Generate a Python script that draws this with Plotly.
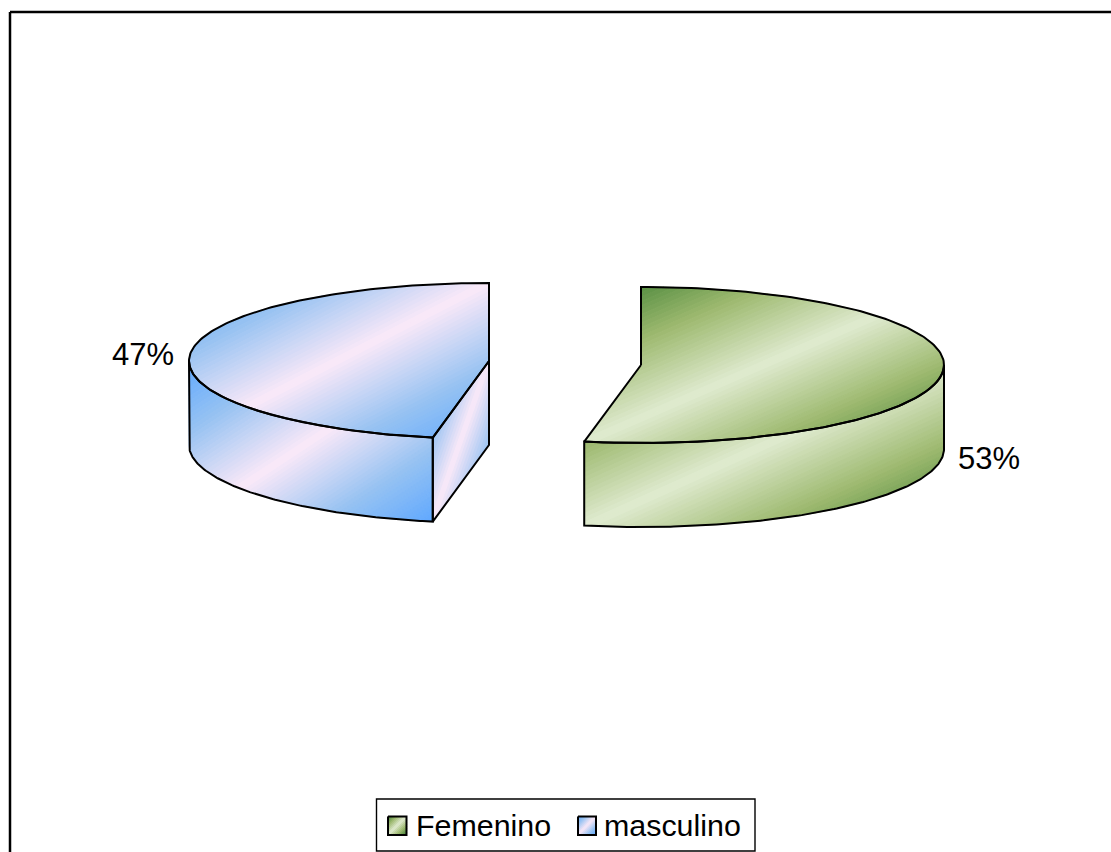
import math
import plotly.graph_objects as go

# Survey split by sex
categories = ["Femenino", "masculino"]
shares = [53, 47]

WIDTH, HEIGHT = 1111, 852
FONT = "Liberation Sans, Arial, sans-serif"

# Pixel-space placement of each exploded wedge: centre x, centre y, radius x, radius y
WEDGE_GEOMETRY = {
    "Femenino": (641, 365, 303, 78),
    "masculino": (489, 361, 300, 78),
}
DEPTH = 84

# Diagonal gradient ramps, position 0 at a face's top-left corner, 1 at bottom-right
RAMPS = {
    "Femenino": [(0.0, "#3a7d30"), (0.25, "#9db96f"), (0.5, "#e0ebd0"), (0.75, "#9db96f"), (1.0, "#3a7d30")],
    "masculino": [(0.0, "#5fa8ff"), (0.22, "#96c2f2"), (0.5, "#fbe9f8"), (0.78, "#96c2f2"), (1.0, "#5fa8ff")],
}
LABEL_POS = {"Femenino": (989, 458), "masculino": (142.5, 354)}
SWATCH_BOX = {"Femenino": (388, 816.5, 406.5, 835), "masculino": (578, 816.5, 596, 835)}
LEGEND_TEXT_X = {"Femenino": 414, "masculino": 602}
STRIPS = 72


def hex_rgb(h):
    return tuple(int(h[i:i + 2], 16) for i in (1, 3, 5))


def ramp_colour(ramp, t):
    for (t0, c0), (t1, c1) in zip(ramp, ramp[1:]):
        if t <= t1:
            f = (t - t0) / (t1 - t0)
            a, b = hex_rgb(c0), hex_rgb(c1)
            return "rgb({},{},{})".format(*(round(a[i] + (b[i] - a[i]) * f) for i in range(3)))
    return ramp[-1][1]


def clip(poly, tfun, limit, keep_above):
    """Clip a polygon against the half-plane tfun(p) >= limit (or <= limit)."""
    out = []
    for i, p in enumerate(poly):
        q = poly[(i + 1) % len(poly)]
        dp, dq = tfun(p) - limit, tfun(q) - limit
        if not keep_above:
            dp, dq = -dp, -dq
        if dp >= 0:
            out.append(p)
        if (dp >= 0) != (dq >= 0):
            f = dp / (dp - dq)
            out.append((p[0] + (q[0] - p[0]) * f, p[1] + (q[1] - p[1]) * f))
    return out


def closed(poly):
    pts = list(poly) + [poly[0]]
    return [p[0] for p in pts], [p[1] for p in pts]


def add_gradient_face(fig, poly, ramp, strips=STRIPS):
    xs, ys = [p[0] for p in poly], [p[1] for p in poly]
    x0, x1, y0, y1 = min(xs), max(xs), min(ys), max(ys)

    def tfun(p):
        return ((p[0] - x0) / (x1 - x0) + (p[1] - y0) / (y1 - y0)) / 2

    for k in range(strips):
        lo, hi = k / strips, (k + 1) / strips
        piece = clip(poly, tfun, lo, True)
        if piece:
            piece = clip(piece, tfun, hi, False)
        if len(piece) < 3:
            continue
        colour = ramp_colour(ramp, (lo + hi) / 2)
        px, py = closed(piece)
        fig.add_trace(go.Scatter(x=px, y=py, mode="lines", fill="toself", fillcolor=colour,
                                 line=dict(color=colour, width=1), hoverinfo="skip", showlegend=False))


def add_outline(fig, poly, width=2.0):
    px, py = closed(poly)
    fig.add_trace(go.Scatter(x=px, y=py, mode="lines", line=dict(color="#000000", width=width),
                             hoverinfo="skip", showlegend=False))


def arc(cx, cy, rx, ry, a0, a1, n=160):
    # Angles run clockwise from twelve o'clock
    pts = []
    for i in range(n + 1):
        a = math.radians(a0 + (a1 - a0) * i / n)
        pts.append((cx + rx * math.sin(a), cy - ry * math.cos(a)))
    return pts


fig = go.Figure()

# Turn the shares into angular spans
total = sum(shares)
spans, start = {}, 0.0
for name, value in zip(categories, shares):
    spans[name] = (start, start + 360.0 * value / total)
    start += 360.0 * value / total

for name in categories:
    cx, cy, rx, ry = WEDGE_GEOMETRY[name]
    a0, a1 = spans[name]
    ramp = RAMPS[name]
    top = [(cx, cy)] + arc(cx, cy, rx, ry, a0, a1)

    # Visible rim: the part of the arc on the front half of the ellipse
    v0, v1 = max(a0, 90), min(a1, 270)
    rim_top = arc(cx, cy, rx, ry, v0, v1)
    rim = rim_top + [(x, y + DEPTH) for x, y in reversed(rim_top)]
    add_gradient_face(fig, rim, ramp)

    faces = [rim]
    # The cut face shows only on the wedge that ends at twelve o'clock
    if a1 >= 360:
        corner = arc(cx, cy, rx, ry, a0, a0, 1)[0]
        wall = [corner, (cx, cy), (cx, cy + DEPTH), (corner[0], corner[1] + DEPTH)]
        add_gradient_face(fig, wall, ramp, strips=40)
        faces.append(wall)

    add_gradient_face(fig, top, ramp)
    faces.append(top)
    for face in faces:
        add_outline(fig, face)

# Percentage labels
annotations = []
for name, value in zip(categories, shares):
    lx, ly = LABEL_POS[name]
    annotations.append(dict(x=lx, y=ly, text=f"{value}%", showarrow=False, xanchor="center", yanchor="middle",
                            font=dict(family=FONT, size=31, color="#000000")))

# Legend: box, gradient swatches, names
for name in categories:
    sx0, sy0, sx1, sy1 = SWATCH_BOX[name]
    square = [(sx0, sy0), (sx1, sy0), (sx1, sy1), (sx0, sy1)]
    add_gradient_face(fig, square, RAMPS[name], strips=18)
    add_outline(fig, square, width=2.0)
    annotations.append(dict(x=LEGEND_TEXT_X[name], y=825, text=name, showarrow=False, xanchor="left", yanchor="middle",
                            font=dict(family=FONT, size=30.4, color="#000000")))

shapes = [
    # Chart frame, running off the right and bottom edges of the page
    dict(type="line", x0=10, y0=12, x1=1111, y1=12, line=dict(color="#000000", width=2.5)),
    dict(type="line", x0=10, y0=12, x1=10, y1=852, line=dict(color="#000000", width=2.5)),
    dict(type="rect", x0=376.5, y0=799, x1=755, y1=851, line=dict(color="#000000", width=1.4),
         fillcolor="rgba(0,0,0,0)", layer="below"),
]

fig.update_layout(
    width=WIDTH, height=HEIGHT, autosize=False,
    margin=dict(l=0, r=0, t=0, b=0),
    paper_bgcolor="#ffffff", plot_bgcolor="#ffffff",
    showlegend=False,
    xaxis=dict(range=[0, WIDTH], visible=False, fixedrange=True),
    yaxis=dict(range=[HEIGHT, 0], visible=False, fixedrange=True),
    annotations=annotations, shapes=shapes,
)

fig.write_html("out.html", config={"displayModeBar": False})
